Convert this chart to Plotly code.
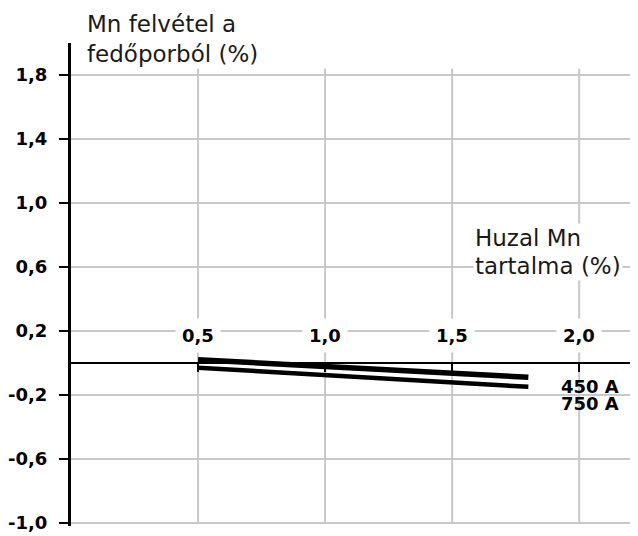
import plotly.graph_objects as go

# Data
wire_mn = [0.5, 1.8]
uptake_450A = [0.02, -0.09]
uptake_750A = [-0.03, -0.15]
series_names = ["450 A", "750 A"]

y_ticks = [-1.0, -0.6, -0.2, 0.2, 0.6, 1.0, 1.4, 1.8]
x_ticks = [0.5, 1.0, 1.5, 2.0]
y_tick_text = [f"{v:.1f}".replace(".", ",") for v in y_ticks]
x_tick_text = [f"{v:.1f}".replace(".", ",") for v in x_ticks]

title_lines = ["Mn felvétel a", "fedőporból (%)"]
xtitle_lines = ["Huzal Mn", "tartalma (%)"]

BOLD = dict(family="DejaVu Sans", size=18, color="black", weight="bold")
NORM = dict(family="DejaVu Sans", size=23, color="#1a1a1a")
GRID = "#c8c8c8"

Y0, Y1 = -1.02, 2.0

fig = go.Figure()
fig.add_trace(go.Scatter(x=wire_mn, y=uptake_450A, mode="lines",
                         line=dict(color="black", width=5.5), name=series_names[0],
                         showlegend=False))
fig.add_trace(go.Scatter(x=wire_mn, y=uptake_750A, mode="lines",
                         line=dict(color="black", width=4.5), name=series_names[1],
                         showlegend=False))

# vertical gridlines (start below the y-axis title)
for xv in x_ticks:
    fig.add_shape(type="line", x0=xv, x1=xv, y0=-1.0, y1=1.84, xref="x", yref="y",
                  line=dict(color=GRID, width=2), layer="below")

anns = []
# x tick labels sitting on the 0.2 gridline
for xv, t in zip(x_ticks, x_tick_text):
    anns.append(dict(x=xv, y=0.2, xref="x", yref="y", text=t, showarrow=False,
                     font=BOLD, bgcolor="white", borderpad=6, yshift=-5))
# y-axis title (above the plot area -> paper coords)
anns.append(dict(x=0.025, y=1.039, xref="paper", yref="paper", text=title_lines[0],
                 showarrow=False, xanchor="left", yanchor="middle", font=NORM, bgcolor="white"))
anns.append(dict(x=0.025, y=0.977, xref="paper", yref="paper", text=title_lines[1],
                 showarrow=False, xanchor="left", yanchor="middle", font=NORM, bgcolor="white"))
# x-axis title
anns.append(dict(x=1.583, y=0.78, xref="x", yref="y", text=xtitle_lines[0], showarrow=False,
                 xanchor="left", yanchor="middle", font=NORM, bgcolor="white"))
anns.append(dict(x=1.583, y=0.606, xref="x", yref="y", text=xtitle_lines[1], showarrow=False,
                 xanchor="left", yanchor="middle", font=NORM, bgcolor="white"))
# series labels
anns.append(dict(x=2.043, y=-0.15, xref="x", yref="y", text=series_names[0], showarrow=False,
                 font=BOLD))
anns.append(dict(x=2.043, y=-0.255, xref="x", yref="y", text=series_names[1], showarrow=False,
                 font=BOLD))

fig.update_layout(
    width=638, height=536,
    margin=dict(l=71, r=8, t=43, b=10, autoexpand=False),
    paper_bgcolor="white", plot_bgcolor="white",
    annotations=anns,
    xaxis=dict(range=[0, 2.2], showgrid=False, zeroline=False, showline=False,
               tickvals=x_ticks, showticklabels=False, ticks="outside", ticklen=8,
               tickwidth=2, tickcolor="black", anchor="free", automargin=False,
               position=(0 - Y0) / (Y1 - Y0)),
    yaxis=dict(range=[Y0, Y1], tickvals=y_ticks, ticktext=y_tick_text, automargin=False,
               tickfont=BOLD, ticks="outside", ticklen=9, tickwidth=2, tickcolor="black",
               ticklabelstandoff=8,
               showline=True, linecolor="black", linewidth=3,
               showgrid=True, gridcolor=GRID, gridwidth=2,
               zeroline=True, zerolinecolor="black", zerolinewidth=2),
)

fig.write_html("out.html", config={"displayModeBar": False},
               post_script="document.body.style.margin='0';")
